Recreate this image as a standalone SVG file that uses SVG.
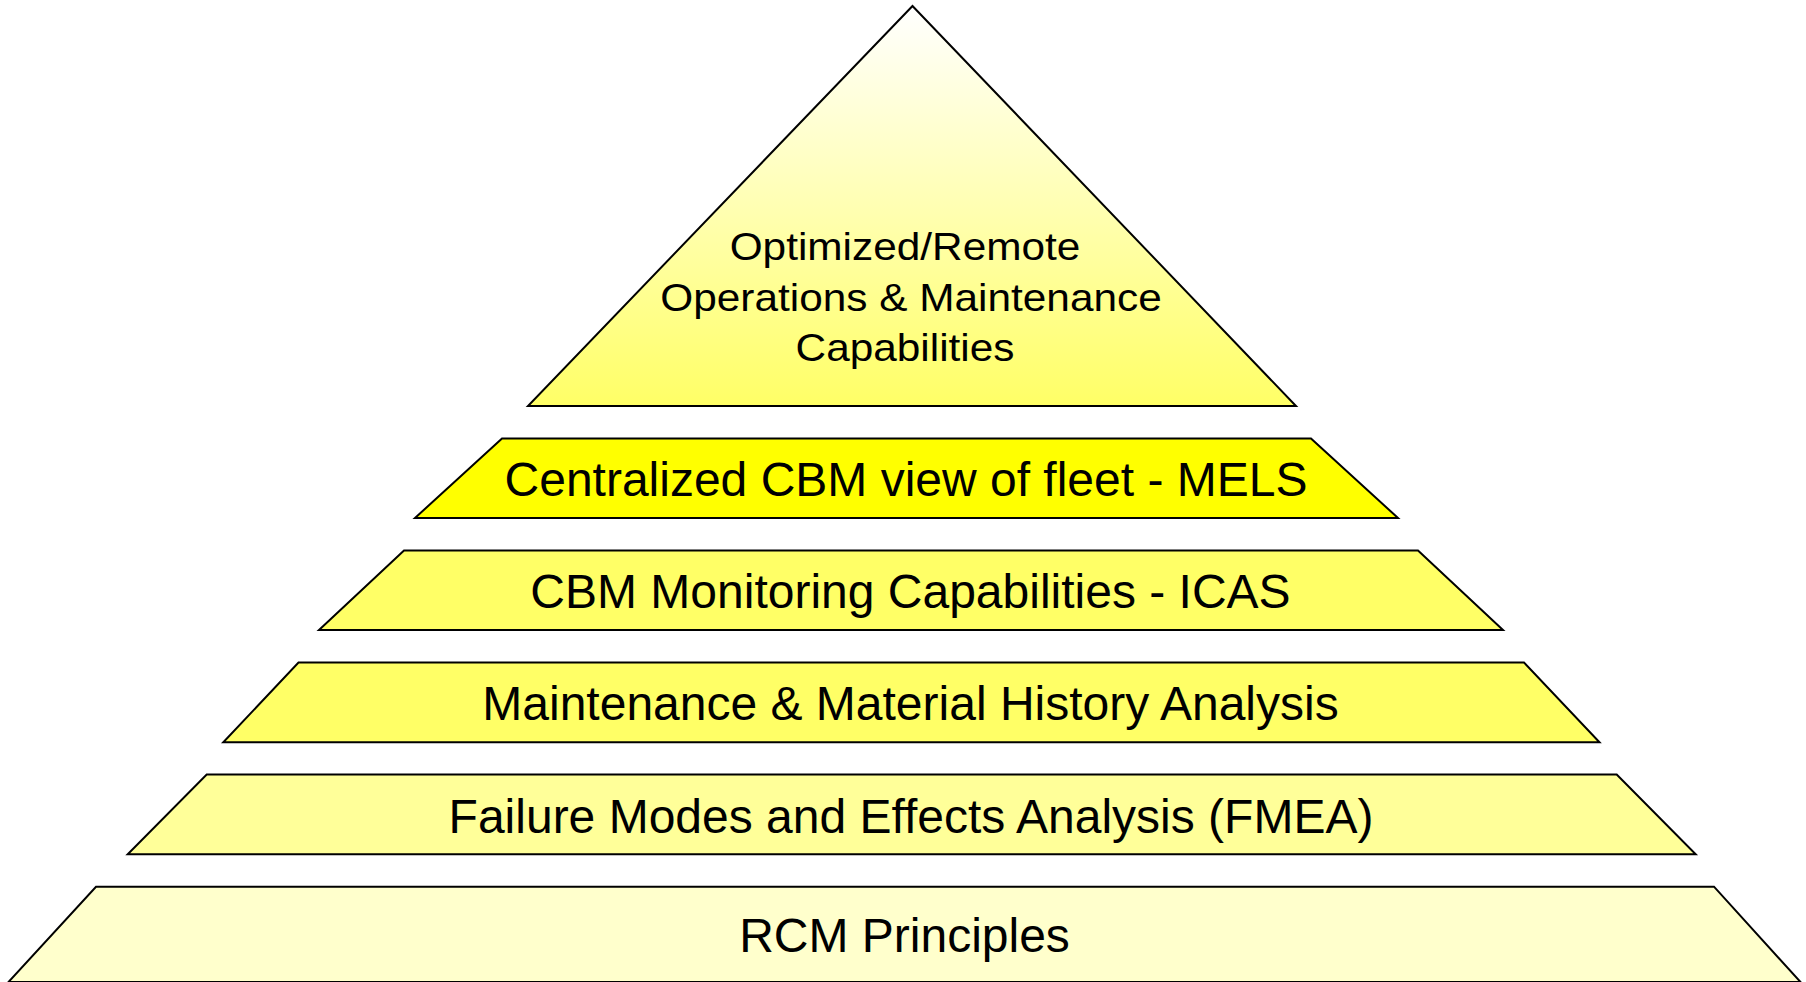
<svg xmlns="http://www.w3.org/2000/svg" width="1806" height="982" viewBox="0 0 1806 982">
<defs>
<linearGradient id="topGrad" gradientUnits="userSpaceOnUse" x1="0" y1="6" x2="0" y2="406">
<stop offset="0" stop-color="#FFFFFF"/>
<stop offset="1" stop-color="#FFFF66"/>
</linearGradient>
</defs>
<style>
.shape{stroke:#000000;stroke-width:2;stroke-linejoin:miter}
.lbl{font-family:"Liberation Sans",Arial,Helvetica,sans-serif;fill:#000000;text-anchor:middle}
.big{font-size:48px}
.top{font-size:38.5px}
</style>
<rect x="0" y="0" width="1806" height="982" fill="#FFFFFF"/>
<g id="apex">
<polygon class="shape" fill="url(#topGrad)" points="912.5,6 528,406 1296,406"/>
<g transform="translate(905,0) scale(1.1,1)"><text class="lbl top" x="0" y="260">Optimized/Remote</text></g>
<g transform="translate(911,0) scale(1.1,1)"><text class="lbl top" x="0" y="311">Operations &amp; Maintenance</text></g>
<g transform="translate(905,0) scale(1.1,1)"><text class="lbl top" x="0" y="361.5">Capabilities</text></g>
</g>
<g id="mels">
<polygon class="shape" fill="#FFFF00" points="502,438.5 1311,438.5 1398,518 415,518"/>
<text class="lbl big" x="906" y="496">Centralized CBM view of fleet - MELS</text>
</g>
<g id="icas">
<polygon class="shape" fill="#FFFF66" points="404,550.5 1418,550.5 1503,630 319,630"/>
<text class="lbl big" x="910.5" y="607.5">CBM Monitoring Capabilities - ICAS</text>
</g>
<g id="history">
<polygon class="shape" fill="#FFFF66" points="298.5,662.5 1524,662.5 1599.5,742.3 223.3,742.3"/>
<text class="lbl big" x="910.5" y="720">Maintenance &amp; Material History Analysis</text>
</g>
<g id="fmea">
<polygon class="shape" fill="#FFFF99" points="206.7,774.5 1616.7,774.5 1695.7,854.3 127.7,854.3"/>
<text class="lbl big" x="911" y="832.5">Failure Modes and Effects Analysis (FMEA)</text>
</g>
<g id="rcm">
<polygon class="shape" fill="#FFFFCC" points="96,886.7 1714,886.7 1800.5,982 8.5,982"/>
<text class="lbl big" x="904.5" y="951.5">RCM Principles</text>
</g>
<g id="connectors"></g>
</svg>
